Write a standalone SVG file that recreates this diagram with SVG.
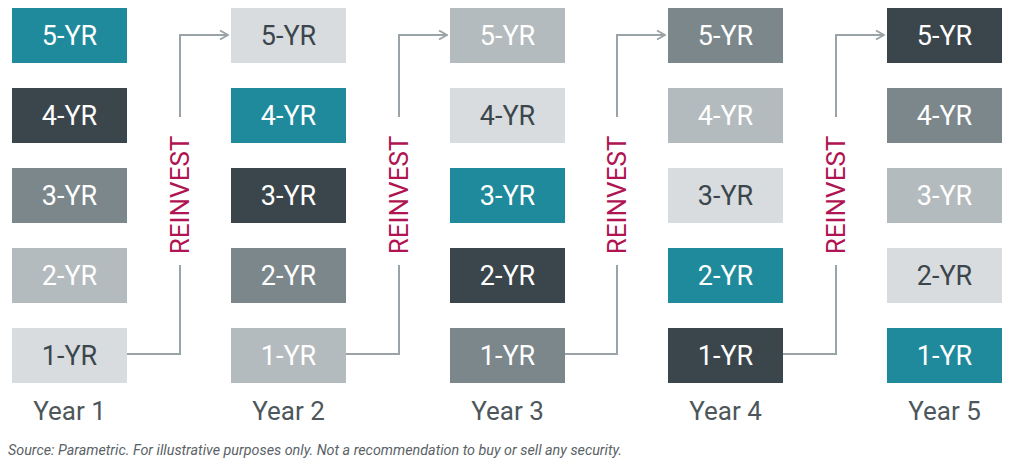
<svg xmlns="http://www.w3.org/2000/svg" width="1023" height="467" viewBox="0 0 1023 467">
<style>
.bx{}
.t{font-family:Roboto,"Liberation Sans",sans-serif;font-size:27px;text-anchor:middle;dominant-baseline:central}
.w{fill:#ffffff}
.d{fill:#3b464c}
.teal{fill:#1e8a9c}
.dark{fill:#3b464c}
.mid{fill:#7b878b}
.lt{fill:#b4bbbe}
.vl{fill:#d9dcdf}
.yr{font-family:Roboto,"Liberation Sans",sans-serif;font-size:26px;fill:#4d575b;text-anchor:middle}
.re{font-family:Roboto,"Liberation Sans",sans-serif;font-size:26px;fill:#b01452;text-anchor:middle;dominant-baseline:central}
.c{fill:none;stroke:#9aa3a7;stroke-width:2}
.src{font-family:Roboto,"Liberation Sans",sans-serif;font-size:14px;font-style:italic;fill:#5a6266}
</style>
<defs>
<marker id="ah" viewBox="0 0 10 10" refX="9" refY="5" markerWidth="10" markerHeight="10" markerUnits="userSpaceOnUse" orient="auto">
<path d="M1,0.5 L9,5 L1,9.5" fill="none" stroke="#9aa3a7" stroke-width="1.8"/>
</marker>
</defs>
<rect width="1023" height="467" fill="#ffffff"/>
<g id="year1">
<rect class="teal" x="12" y="8" width="115" height="55"/><text class="t w" x="69.5" y="36">5-YR</text>
<rect class="dark" x="12" y="88" width="115" height="55"/><text class="t w" x="69.5" y="116">4-YR</text>
<rect class="mid" x="12" y="168" width="115" height="55"/><text class="t w" x="69.5" y="196">3-YR</text>
<rect class="lt" x="12" y="248" width="115" height="55"/><text class="t w" x="69.5" y="276">2-YR</text>
<rect class="vl" x="12" y="328" width="115" height="55"/><text class="t d" x="69.5" y="356">1-YR</text>
<text class="yr" x="69.5" y="420">Year 1</text>
</g>
<g id="year2">
<rect class="vl" x="231" y="8" width="115" height="55"/><text class="t d" x="288.5" y="36">5-YR</text>
<rect class="teal" x="231" y="88" width="115" height="55"/><text class="t w" x="288.5" y="116">4-YR</text>
<rect class="dark" x="231" y="168" width="115" height="55"/><text class="t w" x="288.5" y="196">3-YR</text>
<rect class="mid" x="231" y="248" width="115" height="55"/><text class="t w" x="288.5" y="276">2-YR</text>
<rect class="lt" x="231" y="328" width="115" height="55"/><text class="t w" x="288.5" y="356">1-YR</text>
<text class="yr" x="288.5" y="420">Year 2</text>
</g>
<g id="year3">
<rect class="lt" x="450" y="8" width="115" height="55"/><text class="t w" x="507.5" y="36">5-YR</text>
<rect class="vl" x="450" y="88" width="115" height="55"/><text class="t d" x="507.5" y="116">4-YR</text>
<rect class="teal" x="450" y="168" width="115" height="55"/><text class="t w" x="507.5" y="196">3-YR</text>
<rect class="dark" x="450" y="248" width="115" height="55"/><text class="t w" x="507.5" y="276">2-YR</text>
<rect class="mid" x="450" y="328" width="115" height="55"/><text class="t w" x="507.5" y="356">1-YR</text>
<text class="yr" x="507.5" y="420">Year 3</text>
</g>
<g id="year4">
<rect class="mid" x="668" y="8" width="115" height="55"/><text class="t w" x="725.5" y="36">5-YR</text>
<rect class="lt" x="668" y="88" width="115" height="55"/><text class="t w" x="725.5" y="116">4-YR</text>
<rect class="vl" x="668" y="168" width="115" height="55"/><text class="t d" x="725.5" y="196">3-YR</text>
<rect class="teal" x="668" y="248" width="115" height="55"/><text class="t w" x="725.5" y="276">2-YR</text>
<rect class="dark" x="668" y="328" width="115" height="55"/><text class="t w" x="725.5" y="356">1-YR</text>
<text class="yr" x="725.5" y="420">Year 4</text>
</g>
<g id="year5">
<rect class="dark" x="887" y="8" width="115" height="55"/><text class="t w" x="944.5" y="36">5-YR</text>
<rect class="mid" x="887" y="88" width="115" height="55"/><text class="t w" x="944.5" y="116">4-YR</text>
<rect class="lt" x="887" y="168" width="115" height="55"/><text class="t w" x="944.5" y="196">3-YR</text>
<rect class="vl" x="887" y="248" width="115" height="55"/><text class="t d" x="944.5" y="276">2-YR</text>
<rect class="teal" x="887" y="328" width="115" height="55"/><text class="t w" x="944.5" y="356">1-YR</text>
<text class="yr" x="944.5" y="420">Year 5</text>
</g>
<g id="connectors">
<path class="c" d="M127,354 H180 V265"/><path class="c" d="M180,117 V35 H228" marker-end="url(#ah)"/>
<text class="re" transform="translate(180,195) rotate(-90)">REINVEST</text>
<path class="c" d="M346,354 H399 V265"/><path class="c" d="M399,117 V35 H447" marker-end="url(#ah)"/>
<text class="re" transform="translate(399,195) rotate(-90)">REINVEST</text>
<path class="c" d="M565,354 H617 V265"/><path class="c" d="M617,117 V35 H665" marker-end="url(#ah)"/>
<text class="re" transform="translate(617,195) rotate(-90)">REINVEST</text>
<path class="c" d="M783,354 H836 V265"/><path class="c" d="M836,117 V35 H884" marker-end="url(#ah)"/>
<text class="re" transform="translate(836,195) rotate(-90)">REINVEST</text>
</g>
<text class="src" x="8" y="455" textLength="614" lengthAdjust="spacingAndGlyphs">Source: Parametric. For illustrative purposes only. Not a recommendation to buy or sell any security.</text>
</svg>
